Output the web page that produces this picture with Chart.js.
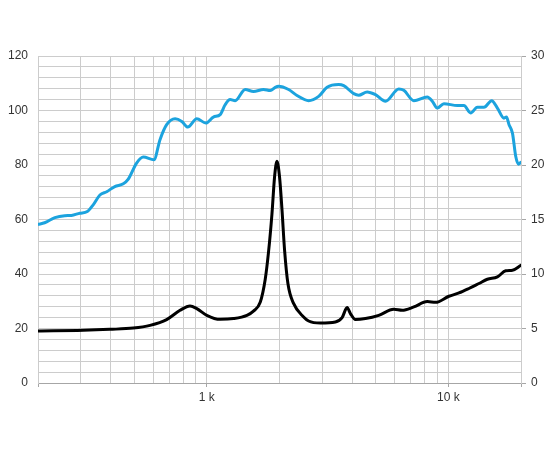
<!DOCTYPE html>
<html><head><meta charset="utf-8">
<script src="https://cdn.jsdelivr.net/npm/chart.js@4"></script>
<style>html,body{margin:0;padding:0;background:#fff}#wrap{width:550px;height:450px}</style>
</head><body><div id="wrap"><canvas id="c" width="550" height="450"></canvas></div>
<script>
// Frequency response (left axis, dB)
const splFreq = [200,213,235,258,275,298,320,338,361,385,416,451,473,512,546,604,640,682,739,788,834,909,991,1065,1136,1191,1249,1311,1442,1561,1718,1831,1920,1982,2181,2363,2640,2905,3148,3516,3688,4058,4256,4612,4994,5494,6237,6543,7199,8184,8584,9001,9589,10898,11608,12374,13193,14052,15121,15971,17010,17406,17844,18435,19025,19521,20000];
const splVal = [58.2,58.8,60.7,61.4,61.5,62.3,62.9,65.3,69.0,70.2,72.1,73.1,74.8,80.7,82.9,81.9,89.3,94.8,97.0,96.0,93.9,97.0,95.4,97.6,98.5,102.1,104.0,103.6,107.7,107.0,107.7,107.3,108.5,108.9,107.7,105.5,103.6,105.2,108.5,109.5,109.1,106.2,105.6,106.8,105.8,103.4,107.9,107.4,103.6,105.0,103.4,100.9,102.5,101.8,101.8,99.1,101.2,101.2,103.6,100.9,97.2,97.6,94.8,91.7,83.1,80.3,81.0];
// Impedance (right axis, ohm)
const impFreq = [200,308,397,496,582,682,775,852,909,1000,1136,1290,1466,1560,1664,1745,1801,1861,1908,1952,2001,2048,2099,2168,2287,2517,2640,2952,3407,3633,3810,3932,4125,4539,5152,5946,6444,7199,8184,8858,10058,11066,12172,13397,14513,15971,17291,18435,20000];
const impVal = [4.77,4.83,4.92,5.04,5.29,5.82,6.67,7.07,6.83,6.21,5.84,5.91,6.21,6.6,7.4,9.5,12.0,15.5,18.9,20.35,18.9,15.9,12.2,9.1,7.3,6.06,5.69,5.5,5.6,6.0,6.92,6.37,5.82,5.91,6.21,6.76,6.67,6.98,7.47,7.4,7.96,8.26,8.67,9.13,9.52,9.73,10.3,10.35,10.8];
// Axis ticks
const xGridValues = [200,300,400,500,600,700,800,900,1000,2000,3000,4000,5000,6000,7000,8000,9000,10000,20000];
const xTickLabels = {1000:'1 k', 10000:'10 k'};
const xTickMarks = [200,1000,10000,20000];

const gridColor = '#cccccc';
const axisColor = '#a6a6a6';
const textColor = '#333333';
const font = {family:'"Liberation Sans", Arial, sans-serif', size:12};

new Chart(document.getElementById('c').getContext('2d'), {
  type:'line',
  data:{datasets:[
    {label:'SPL', data:splFreq.map((f,i)=>({x:f,y:splVal[i]})), yAxisID:'y',
     borderColor:'rgb(28,163,222)', borderWidth:3, pointRadius:0, cubicInterpolationMode:'monotone', borderJoinStyle:'round', borderCapStyle:'round'},
    {label:'Impedance', data:impFreq.map((f,i)=>({x:f,y:impVal[i]})), yAxisID:'y2',
     borderColor:'#000000', borderWidth:3, pointRadius:0, cubicInterpolationMode:'monotone', borderJoinStyle:'round', borderCapStyle:'round'}
  ]},
  options:{
    responsive:false, animation:false,
    layout:{padding:{top:56,left:0,right:0,bottom:0}},
    plugins:{legend:{display:false}, tooltip:{enabled:false}},
    scales:{
      x:{type:'logarithmic', min:200, max:20000,
        afterBuildTicks:s=>{s.ticks = xGridValues.map(v=>({value:v}));},
        ticks:{autoSkip:false, maxRotation:0, padding:3, font, color:textColor, callback:v=>xTickLabels[v]||''},
        grid:{color:gridColor, tickLength:4, tickColor:c=>(c.tick && xTickMarks.includes(c.tick.value))?axisColor:'rgba(0,0,0,0)'},
        border:{color:axisColor},
        afterFit:s=>{s.height=67;}},
      y:{position:'left', min:0, max:120,
        ticks:{stepSize:4, autoSkip:false, padding:10, font, color:textColor, callback:v=>(v%20===0)?String(v):''},
        grid:{color:gridColor, drawTicks:false},
        border:{color:gridColor},
        afterFit:s=>{s.width=38;}},
      y2:{position:'right', min:0, max:30,
        ticks:{stepSize:5, autoSkip:false, padding:5, font, color:textColor},
        grid:{drawOnChartArea:false, tickLength:5, color:axisColor},
        border:{color:gridColor},
        afterFit:s=>{s.width=29;}}
    }
  }
});
</script></body></html>
